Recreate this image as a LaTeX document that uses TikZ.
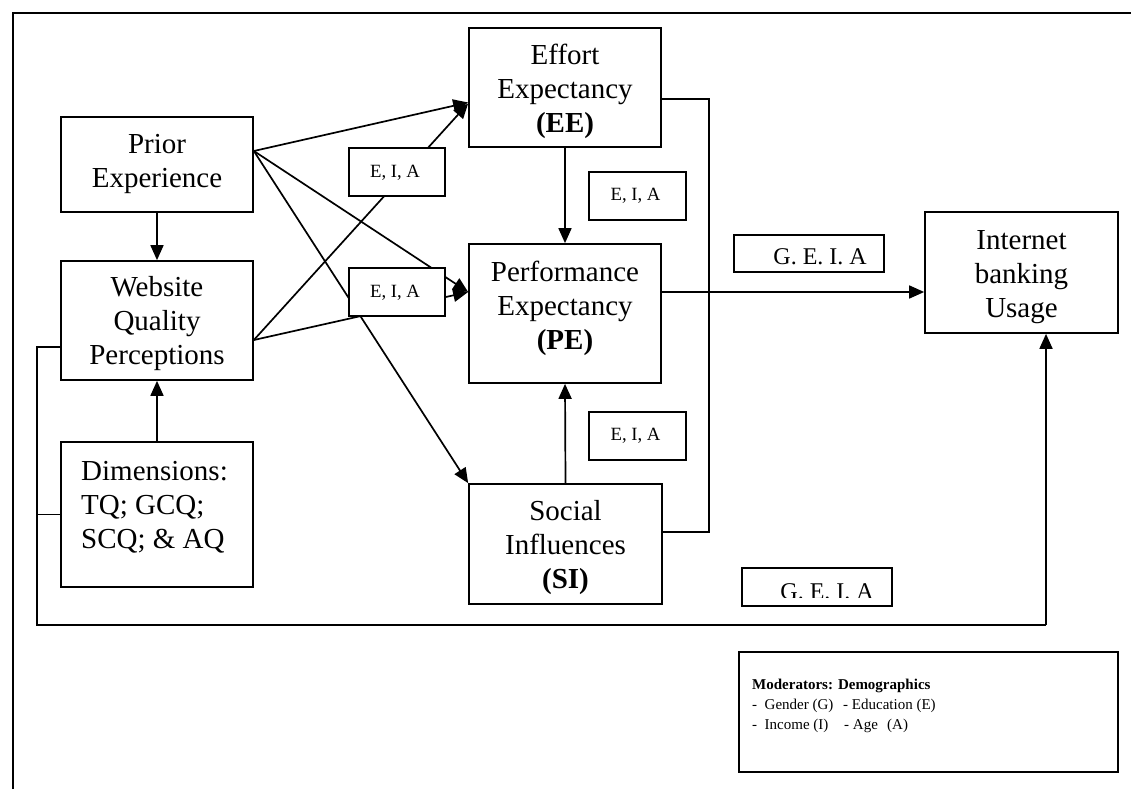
\documentclass[tikz,border=0pt]{standalone}
\usepackage{fontspec}
\setmainfont{Liberation Serif}
\usetikzlibrary{arrows.meta,calc}
\begin{document}
\begin{tikzpicture}[x=1pt,y=-1pt,
  box/.style={draw, line width=1.7pt, fill=white, inner sep=0pt},
  thinbox/.style={draw, line width=1.3pt, fill=white, inner sep=0pt},
  big/.style={font={\fontsize{29}{34}\selectfont}, align=center, inner sep=0pt},
  tag/.style={font={\fontsize{18.7}{22}\selectfont}, inner sep=0pt, anchor=base},
  geia/.style={font={\fontsize{24}{28}\selectfont}, inner sep=0pt, anchor=base east},
  modtxt/.style={font={\fontsize{15}{19}\selectfont}, inner sep=0pt, anchor=base west},
  link/.style={line width=1.7pt},
  arr/.style={link, -{Triangle[length=15pt,width=13pt]}},
]
\useasboundingbox (0,0) rectangle (1131,789);

% outer frame
\draw[line width=2pt] (13,789) -- (13,13) -- (1131,13);

% construct boxes
\node[box, minimum width=192pt, minimum height=95pt]  (prior) at (157,164.5) {};
\node[box, minimum width=192pt, minimum height=119pt] (web)   at (157,320.5) {};
\node[box, minimum width=192pt, minimum height=145pt] (dim)   at (157,514.5) {};
\node[box, minimum width=192pt, minimum height=119pt] (ee)    at (565,87.5) {};
\node[box, minimum width=192pt, minimum height=139pt] (pe)    at (565,313.5) {};
\node[box, minimum width=193pt, minimum height=120pt] (si)    at (565.5,544) {};
\node[box, minimum width=193pt, minimum height=121pt] (ibu)   at (1021.5,272.5) {};
\node[box, minimum width=379pt, minimum height=120pt] (mod)   at (928.5,712) {};

% box texts
\node[big] (priort) at (157,164) {Prior\\Experience};
\node[big] (webt)   at (157,324) {Website\\Quality\\Perceptions};
\node[big, align=left, anchor=west] (dimt) at (81,507) {Dimensions:\\TQ; GCQ;\\SCQ; \& AQ};
\node[big] (eet)    at (565,91) {Effort\\Expectancy\\\textbf{(EE)}};
\node[big] (pet)    at (565,308) {Performance\\Expectancy\\\textbf{(PE)}};
\node[big] (sit)    at (565.5,548) {Social\\Influences\\\textbf{(SI)}};
\node[big] (ibut)   at (1021.5,277) {Internet\\banking\\Usage};

% attachment points
\coordinate (pr)  at ($(prior.east)+(0,-13.5)$);
\coordinate (wr)  at ($(web.east)+(0,19.5)$);
\coordinate (eein) at ($(ee.west)+(0,15)$);
\coordinate (pein) at ($(pe.west)+(0,-21.5)$);
\coordinate (peout) at ($(pe.east)+(0,-21.5)$);
\coordinate (ibuin) at ($(ibu.west)+(0,19.5)$);
\coordinate (ibubot) at ($(ibu.south)+(24.5,0)$);
\coordinate (eeout) at ($(ee.east)+(0,11.5)$);
\coordinate (siout) at ($(si.east)+(0,-12)$);
\coordinate (webout) at ($(web.west)+(0,26.5)$);
\coordinate (busx) at (709,0);
\coordinate (busl) at (37,625);

% paths
\draw[arr] (prior.south) -- (web.north);
\draw[arr] (dim.north) -- (web.south);
\draw[arr] (ee.south) -- (pe.north);
\draw[arr] (si.north) -- (pe.south);
\draw[arr] (peout) -- (ibuin);
\draw[arr] (pr) -- (eein);
\draw[arr] (pr) -- (pein);
\draw[arr] (pr) -- (si.north west);
\draw[arr] (wr) -- ($(eein)+(0,1)$);
\draw[arr] (wr) -- (pein);
\draw[link] (eeout) -- (eeout -| busx) -- (siout -| busx) -- (siout);
\draw[link] (webout) -- (webout -| busl) -- (busl) -- (busl -| ibubot);
\draw[arr] (busl -| ibubot) -- (ibubot);
\draw[link] (dim.west) -- (dim.west -| busl);

% moderator tags
\node[box, minimum width=96pt, minimum height=48pt] (eia1) at (397,172) {};
\node[box, minimum width=96pt, minimum height=48pt] (eia2) at (397,292) {};
\node[box, minimum width=97pt, minimum height=48pt] (eia3) at (637.5,196) {};
\node[box, minimum width=97pt, minimum height=48pt] (eia4) at (637.5,436) {};
\node[tag] (eia1t) at (395,177) {E, I, A};
\node[tag] (eia2t) at (395,297) {E, I, A};
\node[tag] (eia3t) at (635.5,200.5) {E, I, A};
\node[tag] (eia4t) at (635.5,440.5) {E, I, A};

\node[thinbox, minimum width=150pt, minimum height=37pt] (geia1) at (809,253.5) {};
\node[geia] (geia1t) at (867,264) {G. E. I. A};
\node[thinbox, minimum width=150pt, minimum height=38pt] (geia2) at (817,587) {};
\begin{scope}
  \clip (743,569) rectangle (891,597);
  \node[geia] (geia2t) at (874,599) {G. E. I. A};
\end{scope}

% demographics legend
\node[modtxt] (m1)  at (752,689) {\textbf{Moderators: Demographics}};
\node[modtxt] (m2a) at (752,709) {-\ \ Gender\ (G)};
\node[modtxt] (m2b) at (843,709) {- Education (E)};
\node[modtxt] (m3a) at (752,729) {-\ \ Income\ (I)};
\node[modtxt] (m3b) at (844,729) {- Age};
\node[modtxt] (m3c) at (887,729) {(A)};
\end{tikzpicture}
\end{document}
